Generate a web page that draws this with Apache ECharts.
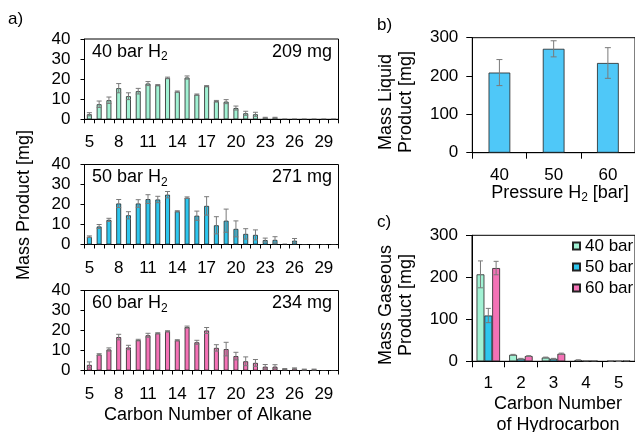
<!DOCTYPE html>
<html><head><meta charset="utf-8">
<script src="https://cdn.jsdelivr.net/npm/echarts@6/dist/echarts.min.js"></script>
<style>html,body{margin:0;padding:0;background:#fff}#c{width:635px;height:432px}</style>
</head><body><div id="c"></div>
<script>
// ---------- data ----------
const carbonNumbers = ['5','6','7','8','9','10','11','12','13','14','15','16','17','18','19','20','21','22','23','24','25','26','27','28','29','30'];
const mass40 = [2.5,7.5,9.5,15.5,11.5,14,17.8,17,20.6,13.8,20.8,12.3,16.5,9,8.8,5.6,3,2.5,0.8,0.8,0,0,0,0,0,0];
const err40  = [0.8,1.6,1.6,2.3,1.7,1.4,1.0,0.3,0.4,0.3,0.8,0.3,0.3,0.4,1.0,1.0,1.0,1.0,0.2,0.2,0,0,0,0,0,0];
const mass50 = [3.9,9.0,12.3,20.5,14.6,20.5,22.7,22.5,24.9,16.6,23.4,14.4,19.3,9.6,11.9,7.8,5.3,4.8,2.2,2.3,0.2,1.9,0,0,0,0];
const err50  = [0.4,1.0,0.8,2.0,1.8,1.9,2.2,1.6,1.6,0.3,0.4,2.3,4.6,4.3,5.8,4.0,2.6,2.5,1.0,1.6,0,1.1,0,0,0,0];
const mass60 = [2.8,8.0,10.5,16.7,11.5,15.2,17.6,18.6,19.6,15.1,21.7,14.1,20.0,11.3,10.7,7.2,4.6,3.8,1.9,1.9,0.7,1.0,0.5,0.5,0,0];
const err60  = [1.5,0.4,0.8,1.4,1.1,0.4,1.0,0.3,0.3,0.3,0.5,1.0,1.5,1.6,3.4,1.9,2.2,1.7,1.1,1.0,0.3,0.3,0.2,0.2,0,0];

const pressures = ['40','50','60'];
const liquidMass = [209,271,234];
const liquidErr  = [34,21,40];

const gasCarbon = ['1','2','3','4','5'];
const gas40 = [207,15.5,9,3,1];
const gasErr40 = [32,1,1,0.5,0.3];
const gas50 = [109,6,6,1.5,0.5];
const gasErr50 = [17,1,1,0.3,0.2];
const gas60 = [222,12.5,18,1.5,1.5];
const gasErr60 = [16,1,1.5,0.3,0.3];

const seriesNames = ['40 bar','50 bar','60 bar'];

// ---------- style ----------
const FONT = '"Liberation Sans", Arial, sans-serif';
const C40 = '#A2F2D4', C50 = '#2EC6EE', C50B = '#4FC8F8', C60 = '#F472B6';
const ERR = '#7a7a7a';
const TICK = 17, NAME = 18;

const chart = echarts.init(document.getElementById('c'), null, {renderer:'canvas'});

const aGrids = [
  {left:84.5, top:39, width:254, height:80.3},
  {left:84.5, top:164.5, width:254, height:80},
  {left:84.5, top:290.5, width:254, height:80}
];
const grids = aGrids.concat([
  {left:472.3, top:37.7, width:168, height:115},
  {left:472, top:235.3, width:167.5, height:126}
]).map(g => Object.assign({show:true, borderColor:'#000', borderWidth:1, backgroundColor:'transparent'}, g));

function catAxis(gi, data, labelInterval, tickLen, margin){
  return {type:'category', gridIndex:gi, data,
    axisLine:{show:true, lineStyle:{color:'#000', width:1}},
    axisTick:{show:true, interval:0, length:tickLen, lineStyle:{color:'#000'}},
    axisLabel:{interval:labelInterval, margin, fontSize:TICK, color:'#000', fontFamily:FONT},
    splitLine:{show:false}};
}
function valAxis(gi, max, interval, tickLen, margin){
  return {type:'value', gridIndex:gi, min:0, max, interval,
    axisLine:{show:true, lineStyle:{color:'#000', width:1}},
    axisTick:{show:true, length:tickLen, lineStyle:{color:'#000'}},
    axisLabel:{margin, fontSize:TICK, color:'#000', fontFamily:FONT},
    splitLine:{show:false}};
}

function barSeries(name, ai, data, color, extra){
  return Object.assign({type:'bar', name, xAxisIndex:ai, yAxisIndex:ai, data,
    itemStyle:{color, borderColor:'#222', borderWidth:0.8}, animation:false, z:2}, extra||{});
}
function errSeries(ai, vals, errs, offsetFrac, capHalf){
  return {type:'custom', name:'err', xAxisIndex:ai, yAxisIndex:ai, z:5, silent:true, animation:false,
    data: vals.map((v,k)=>[k, v, errs[k]]),
    encode:{x:0, y:1},
    renderItem:(params, api)=>{
      const k = api.value(0), v = api.value(1), e = api.value(2);
      if (!(e > 0)) return null;
      const band = api.size([1,0])[0];
      const p1 = api.coord([k, v + e]);
      const p2 = api.coord([k, Math.max(0, v - e)]);
      const x = p1[0] + offsetFrac * band;
      const st = {stroke:ERR, lineWidth:1};
      return {type:'group', children:[
        {type:'line', shape:{x1:x, y1:p1[1], x2:x, y2:p2[1]}, style:st},
        {type:'line', shape:{x1:x-capHalf, y1:p1[1], x2:x+capHalf, y2:p1[1]}, style:st},
        {type:'line', shape:{x1:x-capHalf, y1:p2[1], x2:x+capHalf, y2:p2[1]}, style:st}
      ]};
    }};
}

const aMass = [mass40, mass50, mass60];
const aErr = [err40, err50, err60];
const aColor = [C40, C50, C60];

const xAxes = [], yAxes = [], series = [];
for (let i = 0; i < 3; i++){
  xAxes.push(catAxis(i, carbonNumbers, 2, 4, 15));
  yAxes.push(valAxis(i, 40, 10, 4, 14));
  series.push(barSeries('a'+i, i, aMass[i], aColor[i], {barWidth:'50%'}));
  series.push(errSeries(i, aMass[i], aErr[i], 0, 2.5));
}
xAxes.push(catAxis(3, pressures, 0, 6, 14));
yAxes.push(valAxis(3, 300, 100, 6, 14));
series.push(barSeries('liquid', 3, liquidMass, C50B, {barWidth:'40%'}));
series.push(errSeries(3, liquidMass, liquidErr, 0, 3));

xAxes.push(catAxis(4, gasCarbon, 0, 6, 14));
yAxes.push(valAxis(4, 300, 100, 6, 14));
const gasVals = [gas40, gas50, gas60], gasErrs = [gasErr40, gasErr50, gasErr60];
const gasColors = [C40, C50, C60];
for (let j = 0; j < 3; j++){
  series.push(barSeries(seriesNames[j], 4, gasVals[j], gasColors[j], {barGap:'0%', barCategoryGap:'28%'}));
}
for (let j = 0; j < 3; j++){
  series.push(errSeries(4, gasVals[j], gasErrs[j], (j-1)*0.24, 2.5));
}

// ---------- texts ----------
const sub = {fontSize:12, fontFamily:FONT, fill:'#000', color:'#000', padding:[10,0,0,0]};
const nrm = {fontSize:NAME, fontFamily:FONT, fill:'#000', color:'#000'};
const graphics = [];
function txt(x, y, text, opts){
  graphics.push(Object.assign({type:'text', x, y, silent:true,
    style:Object.assign({text, fontSize:NAME, fontFamily:FONT, fill:'#000', align:'left', verticalAlign:'middle',
      rich:{n:nrm, s:sub}}, (opts&&opts.style)||{})}, (opts&&opts.el)||{}));
}
txt(8, 19, 'a)', {style:{fontSize:17}});
txt(377, 25, 'b)', {style:{fontSize:17}});
txt(377, 222, 'c)', {style:{fontSize:17}});
for (let i = 0; i < 3; i++){
  const y = aGrids[i].top + 13;
  txt(92, y, '{n|' + pressures[i] + ' bar H}{s|2}');
  txt(332, y, liquidMass[i] + ' mg', {style:{align:'right'}});
}
txt(24, 205, 'Mass Product [mg]', {style:{align:'center'}, el:{rotation:Math.PI/2}});
txt(208, 415, 'Carbon Number of Alkane', {style:{align:'center'}});
txt(396, 102, 'Mass Liquid\nProduct [mg]', {style:{align:'center', lineHeight:20}, el:{rotation:Math.PI/2}});
txt(560, 193, '{n|Pressure H}{s|2}{n| [bar]}', {style:{align:'center'}});
txt(396, 305, 'Mass Gaseous\nProduct [mg]', {style:{align:'center', lineHeight:20}, el:{rotation:Math.PI/2}});
txt(558, 404, 'Carbon Number', {style:{align:'center'}});
txt(558, 425, 'of Hydrocarbon', {style:{align:'center'}});

chart.setOption({
  animation:false,
  backgroundColor:'#fff',
  grid: grids,
  xAxis: xAxes,
  yAxis: yAxes,
  series,
  legend:{data:seriesNames, orient:'vertical', left:572, top:237.5, padding:0, itemWidth:7, itemHeight:7, itemGap:4,
    icon:'rect', textStyle:{fontSize:17, fontFamily:FONT, color:'#000'}},
  graphic: graphics
});
</script></body></html>
